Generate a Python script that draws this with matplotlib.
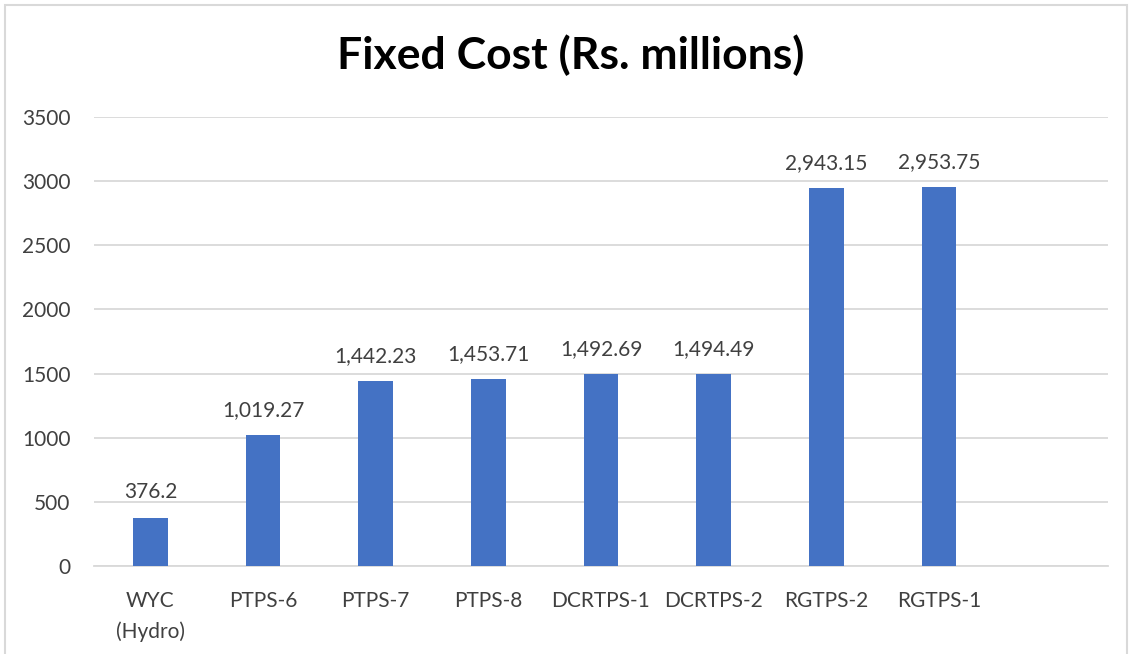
import matplotlib.pyplot as plt
from matplotlib.patches import Rectangle

# データ
categories = ["WYC\n(Hydro)", "PTPS-6", "PTPS-7", "PTPS-8", "DCRTPS-1",
              "DCRTPS-2", "RGTPS-2", "RGTPS-1", ""]
values = [376.2, 1019.27, 1442.23, 1453.71, 1492.69, 1494.49, 2943.15, 2953.75]
labels = ["376.2", "1,019.27", "1,442.23", "1,453.71", "1,492.69",
          "1,494.49", "2,943.15", "2,953.75"]
yticks = [0, 500, 1000, 1500, 2000, 2500, 3000, 3500]

plt.rcParams['font.family'] = ['Lato', 'DejaVu Sans']

fig = plt.figure(figsize=(11.3, 6.54), dpi=100)
ax = fig.add_axes([0.0832, 0.1346, 0.8973, 0.6865])

x = list(range(len(categories)))
ax.bar(x[:len(values)], values, width=0.31, color="#4472C4", zorder=3)

for xi, v, t in zip(x, values, labels):
    ax.annotate(t, (xi, v), xytext=(0, 11), textcoords="offset points",
                ha="center", va="bottom", fontsize=15, color="#404040")

ax.set_xlim(-0.5, len(categories) - 0.5)
ax.set_ylim(0, 3500)
ax.set_yticks(yticks)
ax.set_xticks(x)
ax.set_xticklabels(categories, linespacing=1.6)
ax.grid(axis="y", color="#D9D9D9", linewidth=1.3, zorder=0)
for s in ["top", "right", "left"]:
    ax.spines[s].set_visible(False)
ax.spines["bottom"].set_color("#D9D9D9")
ax.spines["bottom"].set_linewidth(1.3)
ax.tick_params(length=0, labelsize=15, labelcolor="#404040")
ax.tick_params(axis="y", pad=17)
ax.tick_params(axis="x", pad=18)

fig.text(0.505, 0.915, "Fixed Cost (Rs. millions)", ha="center", va="center",
         fontsize=32, fontweight="bold", color="black")

# 外枠
fig.patches.append(Rectangle((5 / 1130, -0.01), 1122 / 1130, 1 - 5 / 654 + 0.01,
                             transform=fig.transFigure, fill=False,
                             edgecolor="#D9D9D9", linewidth=1.5))

plt.savefig("out.png")
